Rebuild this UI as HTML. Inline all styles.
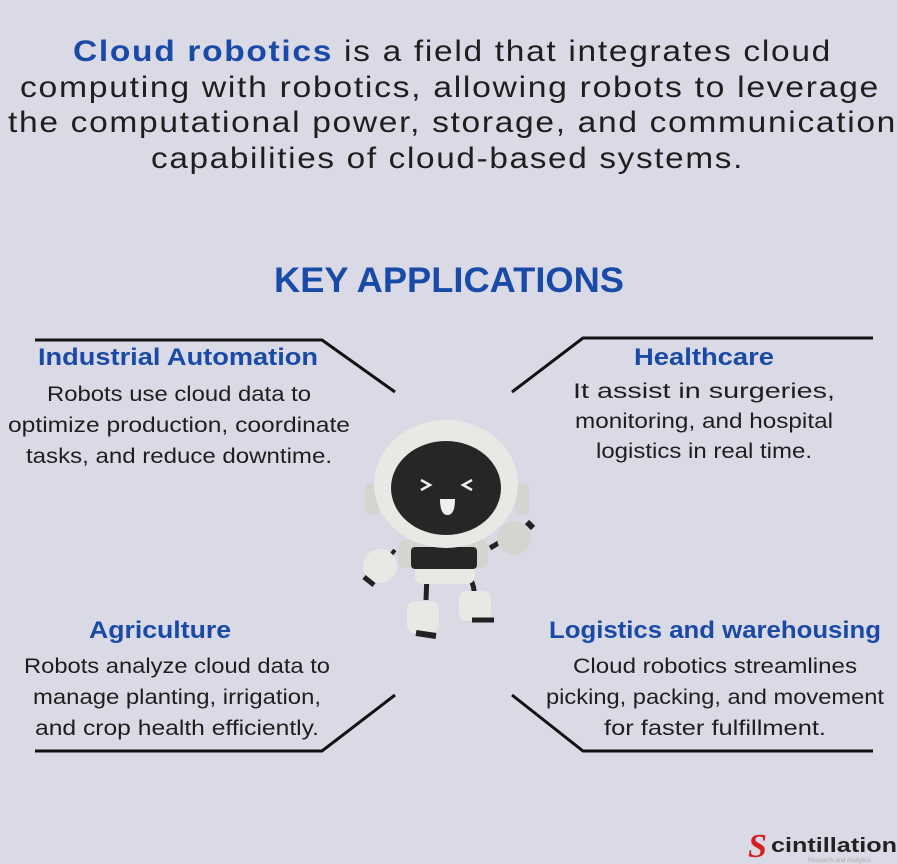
<!DOCTYPE html>
<html><head><meta charset="utf-8"><style>
html,body{margin:0;padding:0;background:#dadae6;}
svg{display:block}
</style></head><body>
<svg width="897" height="864" viewBox="0 0 897 864" xmlns="http://www.w3.org/2000/svg">
<rect width="897" height="864" fill="#dadae6"/>
<g font-family="Liberation Sans, sans-serif" font-size="30" fill="#1e1e1e" letter-spacing="1.5">
<text x="73" y="61" textLength="759" lengthAdjust="spacingAndGlyphs"><tspan fill="#1a4aa8" font-weight="bold">Cloud robotics</tspan> is a field that integrates cloud</text>
<text x="20" y="97" textLength="860" lengthAdjust="spacingAndGlyphs">computing with robotics, allowing robots to leverage</text>
<text x="8" y="132" textLength="889" lengthAdjust="spacingAndGlyphs">the computational power, storage, and communication</text>
<text x="151" y="168" textLength="593" lengthAdjust="spacingAndGlyphs">capabilities of cloud-based systems.</text>
</g>
<text x="449" y="292" text-anchor="middle" font-family="Liberation Sans, sans-serif" font-size="35" font-weight="bold" fill="#1a4aa8" textLength="350" lengthAdjust="spacingAndGlyphs">KEY APPLICATIONS</text>
<g stroke="#111" stroke-width="3" fill="none">
<polyline points="35,340 322,340 395,392"/>
<polyline points="512,392 583,338 873,338"/>
<polyline points="35,751 322,751 395,695"/>
<polyline points="512,695 583,751 873,751"/>
</g>
<g font-family="Liberation Sans, sans-serif" font-weight="bold" font-size="24" fill="#1a4aa8" text-anchor="middle">
<text x="178" y="365" textLength="280" lengthAdjust="spacingAndGlyphs">Industrial Automation</text>
<text x="704" y="365" textLength="140" lengthAdjust="spacingAndGlyphs">Healthcare</text>
<text x="160" y="638" textLength="142" lengthAdjust="spacingAndGlyphs">Agriculture</text>
<text x="715" y="638" textLength="332" lengthAdjust="spacingAndGlyphs">Logistics and warehousing</text>
</g>
<g font-family="Liberation Sans, sans-serif" font-size="21" fill="#1e1e1e" text-anchor="middle">
<text x="179" y="401" textLength="264" lengthAdjust="spacingAndGlyphs">Robots use cloud data to</text>
<text x="179" y="432" textLength="342" lengthAdjust="spacingAndGlyphs">optimize production, coordinate</text>
<text x="179" y="463" textLength="306" lengthAdjust="spacingAndGlyphs">tasks, and reduce downtime.</text>
<text x="704" y="398" textLength="262" lengthAdjust="spacingAndGlyphs">It assist in surgeries,</text>
<text x="704" y="428" textLength="258" lengthAdjust="spacingAndGlyphs">monitoring, and hospital</text>
<text x="704" y="458" textLength="216" lengthAdjust="spacingAndGlyphs">logistics in real time.</text>
<text x="177" y="673" textLength="306" lengthAdjust="spacingAndGlyphs">Robots analyze cloud data to</text>
<text x="177" y="704" textLength="288" lengthAdjust="spacingAndGlyphs">manage planting, irrigation,</text>
<text x="177" y="735" textLength="284" lengthAdjust="spacingAndGlyphs">and crop health efficiently.</text>
<text x="715" y="673" textLength="284" lengthAdjust="spacingAndGlyphs">Cloud robotics streamlines</text>
<text x="715" y="704" textLength="338" lengthAdjust="spacingAndGlyphs">picking, packing, and movement</text>
<text x="715" y="735" textLength="222" lengthAdjust="spacingAndGlyphs">for faster fulfillment.</text>
</g>
<!-- robot -->
<g>
<path d="M428 549 L426 600" stroke="#222" stroke-width="5" fill="none"/>
<path d="M467 573 Q475 585 474 595" stroke="#222" stroke-width="5" fill="none"/>
<path d="M390 556 L395 550" stroke="#222" stroke-width="4"/>
<path d="M490 548 Q505 540 515 530" stroke="#222" stroke-width="5" fill="none"/>
<rect x="365" y="483" width="14" height="32" rx="5" fill="#d4d4d0"/>
<rect x="515" y="483" width="14" height="32" rx="5" fill="#d4d4d0"/>
<path d="M430 427 Q450 415 460 427 Z" fill="#d4d4d0"/>
<rect x="398" y="540" width="90" height="28" rx="6" fill="#d4d4d0"/>
<rect x="415" y="560" width="60" height="24" rx="8" fill="#e8e8e4"/>
<rect x="411" y="547" width="66" height="22" rx="4" fill="#262626"/>
<ellipse cx="446" cy="484" rx="72" ry="64" fill="#e8e8e4"/>
<ellipse cx="446" cy="488" rx="55" ry="47" fill="#262626"/>
<path d="M421 480 l9 5 l-9 5 M472 480 l-9 5 l9 5" stroke="#eee" stroke-width="2.5" fill="none"/>
<path d="M440 499 h15 q0 16 -7.5 16 q-7.5 0 -7.5 -16z" fill="#eee"/>
<circle cx="380" cy="566" r="17" fill="#e8e8e4"/>
<path d="M364 577 l10 8" stroke="#222" stroke-width="5"/>
<circle cx="514" cy="538" r="17" fill="#d4d4d0"/>
<path d="M527 522 l6 6" stroke="#222" stroke-width="6"/>
<rect x="407" y="601" width="32" height="32" rx="8" fill="#e8e8e4"/>
<path d="M416 633 l20 3" stroke="#222" stroke-width="6"/>
<rect x="459" y="591" width="32" height="30" rx="8" fill="#e8e8e4"/>
<path d="M472 620 h22" stroke="#222" stroke-width="5"/>
</g>
<!-- logo -->
<text x="748" y="857" font-family="Liberation Serif, serif" font-style="italic" font-weight="bold" font-size="34" fill="#d42020">S</text>
<text x="771" y="852" font-family="Liberation Sans, sans-serif" font-weight="bold" font-size="20" fill="#222" textLength="126" lengthAdjust="spacingAndGlyphs">cintillation</text>
<text x="808" y="862" font-family="Liberation Sans, sans-serif" font-size="6" fill="#aaa">Research and Analytics</text>
</svg>
</body></html>
